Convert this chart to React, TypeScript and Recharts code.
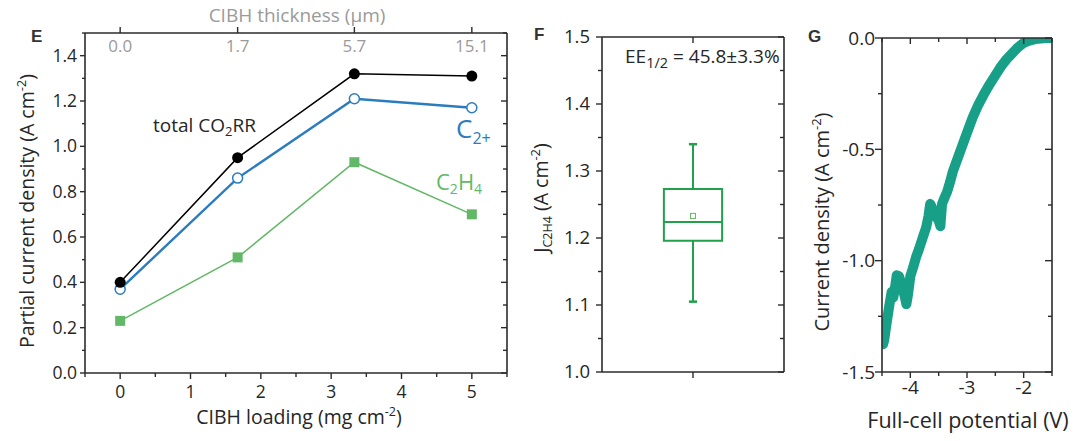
import React from 'react';
import {
  LineChart, Line, XAxis, YAxis, ComposedChart, Scatter, ReferenceArea, ReferenceLine,
} from 'recharts';

// ---------- Panel E data ----------
const loading = [0, 1.67, 3.33, 5];
const thicknessLabels = ['0.0', '1.7', '5.7', '15.1'];
const totalCO2RR = [0.40, 0.95, 1.32, 1.31];
const c2plus = [0.37, 0.86, 1.21, 1.17];
const c2h4 = [0.23, 0.51, 0.93, 0.70];
const eYTicks = [0, 0.1, 0.2, 0.3, 0.4, 0.5, 0.6, 0.7, 0.8, 0.9, 1.0, 1.1, 1.2, 1.3, 1.4, 1.5];
const eYMajors = [0, 0.2, 0.4, 0.6, 0.8, 1.0, 1.2, 1.4];
const eXTicks = [-0.5, 0, 0.5, 1, 1.5, 2, 2.5, 3, 3.5, 4, 4.5, 5, 5.5];
const eXMajors = [0, 1, 2, 3, 4, 5];

// ---------- Panel F data ----------
const boxWhiskerLow = [1.105];
const boxQ1 = [1.196];
const boxMedian = [1.224];
const boxMean = [1.233];
const boxQ3 = [1.273];
const boxWhiskerHigh = [1.34];
const fYTicks = [1.0, 1.05, 1.1, 1.15, 1.2, 1.25, 1.3, 1.35, 1.4, 1.45, 1.5];
const fYMajors = [1.0, 1.1, 1.2, 1.3, 1.4, 1.5];

// ---------- Panel G data ----------
const potential = [
  -1.50, -1.60, -1.70, -1.80, -1.90, -2.00, -2.10, -2.20, -2.30, -2.40,
  -2.50, -2.60, -2.70, -2.80, -2.90, -3.00, -3.10, -3.20, -3.25, -3.30,
  -3.35, -3.40, -3.44, -3.47, -3.50, -3.55, -3.60, -3.65, -3.68, -3.72,
  -3.78, -3.85, -3.90, -3.95, -4.00, -4.04, -4.07, -4.10, -4.15, -4.20,
  -4.24, -4.27, -4.30, -4.33, -4.37, -4.40, -4.43, -4.46, -4.48,
];
const currentDensity = [
  0.000, 0.000, -0.002, -0.005, -0.012, -0.022, -0.042, -0.068, -0.095, -0.128,
  -0.168, -0.208, -0.252, -0.300, -0.357, -0.425, -0.495, -0.565, -0.600, -0.648,
  -0.690, -0.720, -0.745, -0.845, -0.820, -0.800, -0.770, -0.745, -0.800, -0.850,
  -0.895, -0.950, -0.985, -1.030, -1.070, -1.150, -1.195, -1.160, -1.110, -1.070,
  -1.065, -1.120, -1.165, -1.140, -1.200, -1.250, -1.300, -1.355, -1.375,
];
const gYTicks = [-1.5, -1.25, -1.0, -0.75, -0.5, -0.25, 0];
const gYMajors = [-1.5, -1.0, -0.5, 0];
const gXTicks = [-4.5, -4, -3.5, -3, -2.5, -2, -1.5];
const gXMajors = [-4, -3, -2];

// ---------- styles ----------
const FONT = '"Open Sans", "DejaVu Sans", sans-serif';
const AXIS = '#2b2b2b';
const TXT = '#262626';
const BLUE = '#2b7cbf';
const GREEN_E = '#62b866';
const GREEN_F = '#22a04c';
const TEAL = '#17a087';
const GRAY = '#9a9a9a';

const eData = loading.map((x, i) => ({ x, total: totalCO2RR[i], c2p: c2plus[i], c2h4: c2h4[i] }));
const fData = [{ x: 1, y: boxMean[0] }];
const gData = potential.map((x, i) => ({ x, y: currentDensity[i] }));

type Side = 'left' | 'right' | 'top' | 'bottom';
type TickOpts = {
  side: Side;
  majors: number[];
  majorLen: number;
  minorLen: number;
  inward?: boolean;
  fmt?: (v: number) => string | null;
  offset?: number;
  inside?: boolean;
  color?: string;
  fontSize?: number;
};

const isIn = (arr: number[], v: number) => arr.some((a) => Math.abs(a - v) < 1e-6);

function makeTick(o: TickOpts) {
  return (props: any) => {
    const { x, y, payload } = props;
    const v = payload.value as number;
    const major = isIn(o.majors, v);
    const len = major ? o.majorLen : o.minorLen;
    const s = o.inward ? -1 : 1;
    let x2 = x;
    let y2 = y;
    if (o.side === 'left') x2 = x - s * len;
    if (o.side === 'right') x2 = x + s * len;
    if (o.side === 'top') y2 = y - s * len;
    if (o.side === 'bottom') y2 = y + s * len;
    const label = major && o.fmt ? o.fmt(v) : null;
    const off = o.offset ?? 8;
    let text: React.ReactNode = null;
    if (label !== null) {
      const common = {
        fill: o.color ?? TXT,
        fontSize: o.fontSize ?? 17,
        fontFamily: FONT,
      };
      if (o.side === 'left') {
        text = <text x={x - off} y={y} dy="0.35em" textAnchor="end" {...common}>{label}</text>;
      } else if (o.side === 'bottom') {
        text = <text x={x} y={y + off} dy="0.72em" textAnchor="middle" {...common}>{label}</text>;
      } else if (o.side === 'top') {
        text = o.inside
          ? <text x={x} y={y + off} dy="0.72em" textAnchor="middle" {...common}>{label}</text>
          : <text x={x} y={y - off} textAnchor="middle" {...common}>{label}</text>;
      }
    }
    return (
      <g>
        {len > 0 && <line x1={x} y1={y} x2={x2} y2={y2} stroke={AXIS} strokeWidth={1.4} />}
        {text}
      </g>
    );
  };
}

const axisLine = { stroke: AXIS, strokeWidth: 1.6 };

function SquareDot(props: any) {
  const { cx, cy, index } = props;
  if (cx == null || cy == null) return <g key={`sq-${index}`} />;
  return <rect key={`sq-${index}`} x={cx - 5} y={cy - 5} width={10} height={10} fill={GREEN_E} />;
}

function MeanSquare(props: any) {
  const { cx, cy } = props;
  return <rect x={cx - 2.5} y={cy - 2.5} width={5} height={5} fill="none" stroke={GREEN_E} strokeWidth={1} />;
}

function PanelE() {
  return (
    <div style={{ position: 'absolute', left: 0, top: 0 }}>
      <LineChart width={520} height={441} data={eData} margin={{ top: 0, right: 12, bottom: 0, left: 0 }}>
        <XAxis
          xAxisId="b" dataKey="x" type="number" domain={[-0.5, 5.5]} ticks={eXTicks} interval={0}
          allowDataOverflow orientation="bottom" height={68} tickSize={0} tickMargin={0} axisLine={axisLine}
          tick={makeTick({ side: 'bottom', majors: eXMajors, majorLen: 6, minorLen: 4, fmt: (v) => String(v), offset: 12, fontSize: 17.5 })}
        />
        <XAxis
          xAxisId="t" dataKey="x" type="number" domain={[-0.5, 5.5]} ticks={loading} interval={0}
          allowDataOverflow orientation="top" height={33} tickSize={0} tickMargin={0} axisLine={axisLine}
          tick={makeTick({
            side: 'top', majors: loading, majorLen: 6, minorLen: 0, inside: true, offset: 7, color: GRAY,
            fmt: (v) => thicknessLabels[loading.findIndex((l) => Math.abs(l - v) < 1e-6)] ?? null,
          })}
        />
        <YAxis
          yAxisId="l" type="number" domain={[0, 1.5]} ticks={eYTicks} interval={0} allowDataOverflow
          width={85} tickSize={0} tickMargin={0} axisLine={axisLine}
          tick={makeTick({ side: 'left', majors: eYMajors, majorLen: 5, minorLen: 3, fmt: (v) => v.toFixed(1), offset: 8, fontSize: 17.5 })}
        />
        <YAxis
          yAxisId="r" orientation="right" type="number" domain={[0, 1.5]} ticks={eYTicks} interval={0}
          allowDataOverflow width={1} tickSize={0} tickMargin={0} axisLine={axisLine}
          tick={makeTick({ side: 'right', majors: eYMajors, majorLen: 6, minorLen: 4, inward: true })}
        />
        <Line xAxisId="b" yAxisId="l" dataKey="c2h4" stroke={GREEN_E} strokeWidth={1.5} dot={<SquareDot />}
          isAnimationActive={false} />
        <Line xAxisId="b" yAxisId="l" dataKey="c2p" stroke={BLUE} strokeWidth={2.4}
          dot={{ r: 5, fill: '#fff', stroke: BLUE, strokeWidth: 1.5 }} isAnimationActive={false} />
        <Line xAxisId="b" yAxisId="l" dataKey="total" stroke="#000" strokeWidth={1.5}
          dot={{ r: 5.5, fill: '#000', stroke: '#000', strokeWidth: 0 }} isAnimationActive={false} />
      </LineChart>
    </div>
  );
}

function PanelF() {
  const half = 0.32;
  const cap = 0.045;
  return (
    <div style={{ position: 'absolute', left: 520, top: 0 }}>
      <ComposedChart width={280} height={441} data={fData} margin={{ top: 0, right: 15, bottom: 0, left: 0 }}>
        <XAxis
          xAxisId="b" dataKey="x" type="number" domain={[0, 2]} ticks={[1]} interval={0} allowDataOverflow
          orientation="bottom" height={69} tickSize={0} tickMargin={0} axisLine={axisLine}
          tick={makeTick({ side: 'bottom', majors: [1], majorLen: 6, minorLen: 0 })}
        />
        <XAxis
          xAxisId="t" dataKey="x" type="number" domain={[0, 2]} ticks={[1]} interval={0} allowDataOverflow
          orientation="top" height={37} tickSize={0} tickMargin={0} axisLine={axisLine}
          tick={makeTick({ side: 'top', majors: [1], majorLen: 6, minorLen: 0, inward: true })}
        />
        <YAxis
          yAxisId="l" type="number" domain={[1.0, 1.5]} ticks={fYTicks} interval={0} allowDataOverflow
          width={82} tickSize={0} tickMargin={0} axisLine={axisLine}
          tick={makeTick({ side: 'left', majors: fYMajors, majorLen: 6, minorLen: 4, fmt: (v) => v.toFixed(1), offset: 12, fontSize: 18.5 })}
        />
        <YAxis
          yAxisId="r" orientation="right" type="number" domain={[1.0, 1.5]} ticks={fYTicks} interval={0}
          allowDataOverflow width={1} tickSize={0} tickMargin={0} axisLine={axisLine}
          tick={makeTick({ side: 'right', majors: fYMajors, majorLen: 6, minorLen: 4, inward: true })}
        />
        <ReferenceLine xAxisId="b" yAxisId="l" segment={[{ x: 1, y: boxQ3[0] }, { x: 1, y: boxWhiskerHigh[0] }]}
          stroke={GREEN_F} strokeWidth={2} />
        <ReferenceLine xAxisId="b" yAxisId="l" segment={[{ x: 1, y: boxWhiskerLow[0] }, { x: 1, y: boxQ1[0] }]}
          stroke={GREEN_F} strokeWidth={2} />
        <ReferenceLine xAxisId="b" yAxisId="l" segment={[{ x: 1 - cap, y: boxWhiskerHigh[0] }, { x: 1 + cap, y: boxWhiskerHigh[0] }]}
          stroke={GREEN_F} strokeWidth={2.5} />
        <ReferenceLine xAxisId="b" yAxisId="l" segment={[{ x: 1 - cap, y: boxWhiskerLow[0] }, { x: 1 + cap, y: boxWhiskerLow[0] }]}
          stroke={GREEN_F} strokeWidth={2.5} />
        <ReferenceArea xAxisId="b" yAxisId="l" x1={1 - half} x2={1 + half} y1={boxQ1[0]} y2={boxQ3[0]}
          fill="none" fillOpacity={0} stroke={GREEN_F} strokeWidth={2} />
        <ReferenceLine xAxisId="b" yAxisId="l" segment={[{ x: 1 - half, y: boxMedian[0] }, { x: 1 + half, y: boxMedian[0] }]}
          stroke={GREEN_F} strokeWidth={2} />
        <Scatter xAxisId="b" yAxisId="l" dataKey="y" shape={<MeanSquare />} isAnimationActive={false} />
      </ComposedChart>
    </div>
  );
}

function PanelG() {
  return (
    <div style={{ position: 'absolute', left: 800, top: 0 }}>
      <LineChart width={280} height={441} data={gData} margin={{ top: 0, right: 27, bottom: 0, left: 0 }}>
        <XAxis
          xAxisId="b" dataKey="x" type="number" domain={[-4.5, -1.5]} ticks={gXTicks} interval={0} allowDataOverflow
          orientation="bottom" height={69} tickSize={0} tickMargin={0} axisLine={axisLine}
          tick={makeTick({ side: 'bottom', majors: gXMajors, majorLen: 6, minorLen: 4, fmt: (v) => String(v), offset: 8, fontSize: 19 })}
        />
        <XAxis
          xAxisId="t" dataKey="x" type="number" domain={[-4.5, -1.5]} ticks={gXTicks} interval={0} allowDataOverflow
          orientation="top" height={38} tickSize={0} tickMargin={0} axisLine={axisLine}
          tick={makeTick({ side: 'top', majors: gXMajors, majorLen: 6, minorLen: 4, inward: true })}
        />
        <YAxis
          yAxisId="l" type="number" domain={[-1.5, 0]} ticks={gYTicks} interval={0} allowDataOverflow
          width={82} tickSize={0} tickMargin={0} axisLine={axisLine}
          tick={makeTick({ side: 'left', majors: gYMajors, majorLen: 7, minorLen: 4, fmt: (v) => v.toFixed(1), offset: 7, fontSize: 19 })}
        />
        <YAxis
          yAxisId="r" orientation="right" type="number" domain={[-1.5, 0]} ticks={gYTicks} interval={0}
          allowDataOverflow width={1} tickSize={0} tickMargin={0} axisLine={axisLine}
          tick={makeTick({ side: 'right', majors: gYMajors, majorLen: 7, minorLen: 4, inward: true })}
        />
        <Line xAxisId="b" yAxisId="l" dataKey="y" stroke={TEAL} strokeWidth={10} strokeLinecap="round"
          strokeLinejoin="round" dot={false} isAnimationActive={false} />
      </LineChart>
    </div>
  );
}

function Overlay() {
  const t = { fontFamily: FONT, fill: TXT } as const;
  const p = { fontFamily: '"Liberation Sans", Arial, sans-serif', fontWeight: 700, fontSize: 17, fill: '#333' } as const;
  return (
    <svg width={1080} height={441} style={{ position: 'absolute', left: 0, top: 0, pointerEvents: 'none' }}>
      {/* panel letters */}
      <text x={31} y={42} {...p}>E</text>
      <text x={534} y={40} {...p}>F</text>
      <text x={808} y={42} {...p}>G</text>

      {/* Panel E titles */}
      <text x={297} y={22} textAnchor="middle" fontSize={19} fontFamily={FONT} fill={GRAY}>CIBH thickness (μm)</text>
      <text x={299} y={424} textAnchor="middle" fontSize={19.5} {...t}>
        CIBH loading (mg cm<tspan dy={-8} fontSize={12.5}>-2</tspan><tspan dy={8}>)</tspan>
      </text>
      <text transform="translate(34,211) rotate(-90)" textAnchor="middle" fontSize={19.5} {...t}>
        Partial current density (A cm<tspan dy={-8} fontSize={13}>-2</tspan><tspan dy={8}>)</tspan>
      </text>
      <text x={153} y={132} fontSize={19} {...t}>
        total CO<tspan dy={4} fontSize={13}>2</tspan><tspan dy={-4}>RR</tspan>
      </text>
      <text x={456} y={138} fontSize={26} fontFamily={FONT} fill={BLUE}>
        C<tspan dy={6} fontSize={16}>2+</tspan>
      </text>
      <text x={436} y={190} fontSize={22} fontFamily={FONT} fill={GREEN_E}>
        C<tspan dy={4} fontSize={14}>2</tspan><tspan dy={-4}>H</tspan><tspan dy={4} fontSize={14}>4</tspan>
      </text>

      {/* Panel F */}
      <text x={625} y={63} fontSize={19} {...t}>
        EE<tspan dy={5} fontSize={14.5}>1/2</tspan><tspan dy={-5}> = 45.8±3.3%</tspan>
      </text>
      <text transform="translate(548,198) rotate(-90)" textAnchor="middle" fontSize={19.5} {...t}>
        J<tspan dy={4} fontSize={12.5}>C2H4</tspan><tspan dy={-4}> (A cm</tspan><tspan dy={-8} fontSize={13}>-2</tspan><tspan dy={8}>)</tspan>
      </text>

      {/* Panel G */}
      <text x={968} y={428} textAnchor="middle" fontSize={21.5} {...t}>Full-cell potential (V)</text>
      <text transform="translate(829,222) rotate(-90)" textAnchor="middle" fontSize={20} {...t}>
        Current density (A cm<tspan dy={-8} fontSize={13}>-2</tspan><tspan dy={8}>)</tspan>
      </text>
    </svg>
  );
}

export default function App() {
  return (
    <div style={{ position: 'absolute', left: 0, top: 0, width: 1080, height: 441, background: '#fff', overflow: 'hidden' }}>
      <PanelE />
      <PanelF />
      <PanelG />
      <Overlay />
    </div>
  );
}
